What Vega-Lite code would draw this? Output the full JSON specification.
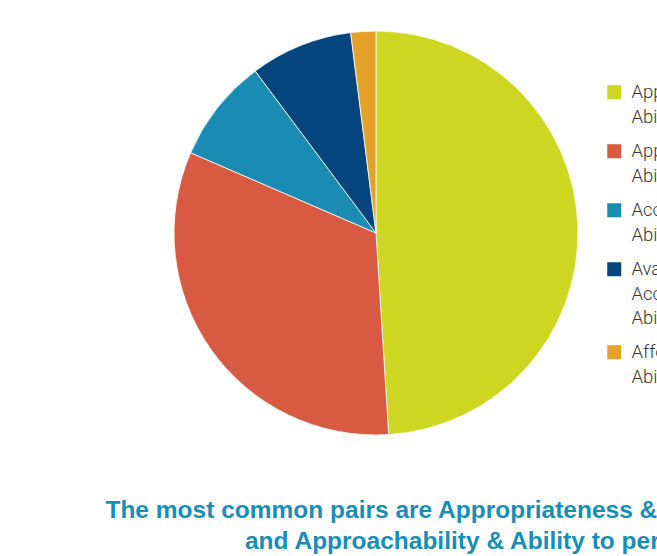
{
  "$schema": "https://vega.github.io/schema/vega-lite/v6.json",
  "width": 404,
  "height": 404,
  "autosize": {"type": "none"},
  "padding": {"left": 174, "top": 31, "right": 300, "bottom": 150},
  "background": "white",
  "title": {
    "text": ["The most common pairs are Appropriateness & Ability to engage", "and Approachability & Ability to perceive"],
    "orient": "bottom",
    "anchor": "middle",
    "frame": "group",
    "dx": 107,
    "offset": 62,
    "font": "Liberation Sans",
    "fontSize": 24.5,
    "fontWeight": "bold",
    "color": "#1a8db5",
    "lineHeight": 31
  },
  "data": {
    "values": [
      {"pair": "Appropriateness & |Ability to engage", "share": 49.0, "rank": 1},
      {"pair": "Approachability & |Ability to perceive", "share": 32.5, "rank": 2},
      {"pair": "Acceptability & |Ability to seek", "share": 8.3, "rank": 3},
      {"pair": "Availability and |Accommodation & |Ability to reach", "share": 8.2, "rank": 4},
      {"pair": "Affordability & |Ability to pay", "share": 2.0, "rank": 5}
    ]
  },
  "mark": {"type": "arc", "stroke": "white", "strokeWidth": 0.8},
  "encoding": {
    "theta": {"field": "share", "type": "quantitative", "stack": true},
    "order": {"field": "rank", "type": "quantitative", "sort": "ascending"},
    "color": {
      "field": "pair",
      "type": "nominal",
      "sort": {"field": "rank"},
      "scale": {
        "domain": [
          "Appropriateness & |Ability to engage",
          "Approachability & |Ability to perceive",
          "Acceptability & |Ability to seek",
          "Availability and |Accommodation & |Ability to reach",
          "Affordability & |Ability to pay"
        ],
        "range": ["#cdd621", "#d95a43", "#1a8cb4", "#03457c", "#e4a22a"]
      },
      "legend": {
        "title": null,
        "orient": "none",
        "legendX": 431,
        "legendY": 52,
        "symbolType": "square",
        "symbolSize": 196,
        "symbolStrokeWidth": 0,
        "symbolOpacity": 1,
        "labelExpr": "split(datum.label, '|')",
        "labelFont": "Roboto",
        "labelFontWeight": 300,
        "labelFontSize": 18.5,
        "labelColor": "#363636",
        "labelLimit": 400,
        "labelOffset": 8,
        "labelBaseline": "top",
        "rowPadding": 15
      }
    }
  },
  "config": {
    "view": {"stroke": null},
    "style": {"guide-label": {"lineHeight": 24.5, "dy": -9}}
  }
}
